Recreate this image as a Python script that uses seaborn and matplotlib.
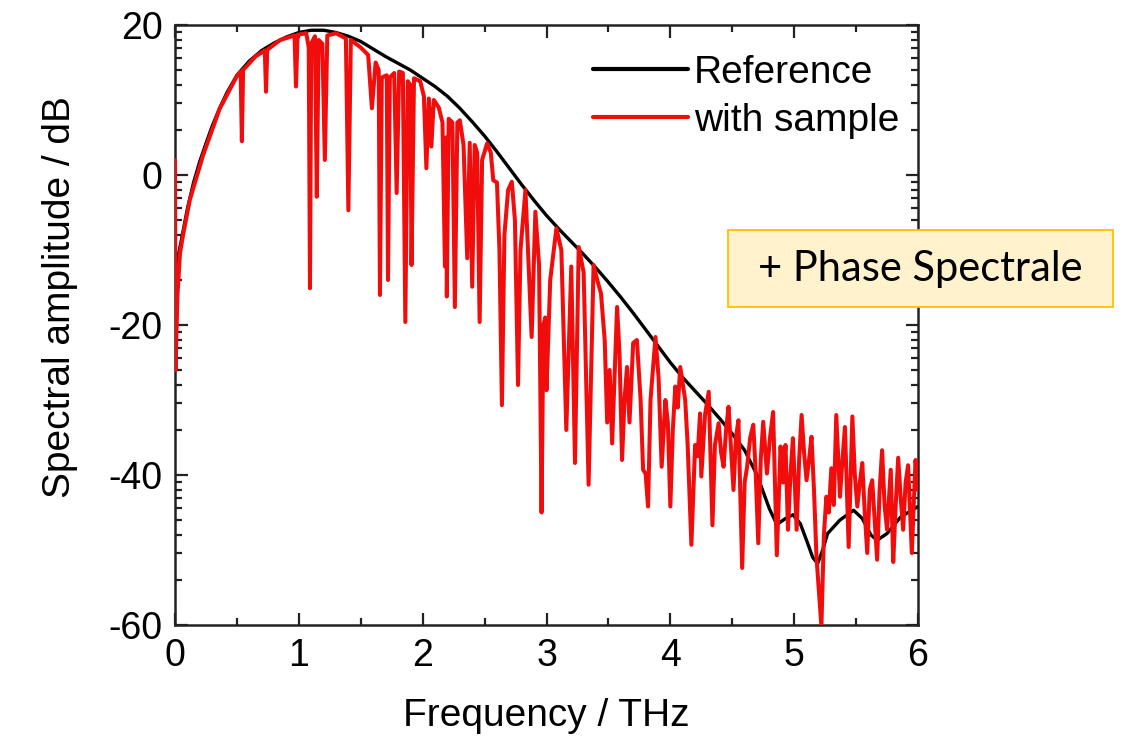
import numpy as np
import pandas as pd
import matplotlib
matplotlib.use("Agg")
import matplotlib.pyplot as plt
from matplotlib.patches import Rectangle
from matplotlib.ticker import FixedLocator
import seaborn as sns

# ---- data ----
ref_freq = [0.0, 0.01, 0.03, 0.065, 0.1, 0.15, 0.2, 0.25, 0.3, 0.36, 0.42, 0.5, 0.6, 0.7,
            0.8, 0.9, 1.0, 1.1, 1.2, 1.3, 1.4, 1.5, 1.6, 1.7, 1.8, 1.9, 2.0, 2.1, 2.2,
            2.3, 2.4, 2.5, 2.6, 2.7, 2.8, 2.9, 3.0, 3.1, 3.2, 3.3, 3.4, 3.5, 3.6, 3.7,
            3.8, 3.9, 4.0, 4.1, 4.2, 4.3, 4.4, 4.5, 4.6, 4.7, 4.8, 4.86, 4.93, 4.99,
            5.05, 5.1, 5.15, 5.19, 5.23, 5.27, 5.37, 5.48, 5.55, 5.62, 5.67, 5.75, 5.86, 6.0]
ref_db = [-15.0, -13.0, -10.5, -7.5, -4.5, -1.0, 1.8, 4.2, 6.5, 8.9, 11.0, 13.3, 15.2, 16.6,
          17.6, 18.4, 19.0, 19.3, 19.3, 19.0, 18.5, 17.8, 16.8, 15.8, 14.9, 14.0, 12.9, 11.8, 10.5,
          8.9, 7.1, 5.2, 3.1, 0.9, -1.3, -3.4, -5.4, -7.2, -8.9, -10.6, -12.4, -14.3, -16.3, -18.4,
          -20.6, -22.8, -25.0, -27.0, -28.8, -30.6, -32.5, -34.5, -36.7, -40.0, -44.5, -46.6, -45.8, -45.3,
          -46.5, -48.7, -51.0, -51.8, -50.0, -47.8, -46.0, -44.7, -45.8, -48.0, -48.7, -47.8, -45.6, -44.2]

sample_freq = [0.0, 0.004, 0.02, 0.04, 0.065, 0.12, 0.226, 0.36, 0.50, 0.53, 0.54, 0.55,
               0.65, 0.725, 0.735, 0.745, 0.85, 0.965, 0.977, 0.99, 1.06, 1.08, 1.09, 1.10,
               1.13, 1.145, 1.16, 1.19, 1.21, 1.23, 1.30, 1.38, 1.40, 1.42, 1.50, 1.56,
               1.59, 1.62, 1.645, 1.655, 1.67, 1.71, 1.72, 1.735, 1.77, 1.79, 1.81, 1.84,
               1.86, 1.88, 1.90, 1.91, 1.93, 1.98, 2.01, 2.03, 2.05, 2.07, 2.09, 2.13,
               2.16, 2.18, 2.19, 2.195, 2.21, 2.24, 2.26, 2.28, 2.30, 2.33, 2.36, 2.38,
               2.40, 2.42, 2.44, 2.46, 2.48, 2.52, 2.55, 2.57, 2.60, 2.62, 2.64, 2.66,
               2.69, 2.72, 2.745, 2.77, 2.79, 2.83, 2.88, 2.91, 2.94, 2.96, 2.975, 2.99,
               3.0, 3.03, 3.08, 3.12, 3.16, 3.20, 3.23, 3.26, 3.30, 3.34, 3.38, 3.41,
               3.44, 3.47, 3.49, 3.51, 3.53, 3.57, 3.59, 3.61, 3.63, 3.65, 3.67, 3.70,
               3.73, 3.76, 3.78, 3.80, 3.82, 3.84, 3.88, 3.905, 3.93, 3.96, 3.98, 4.0,
               4.02, 4.04, 4.06, 4.08, 4.12, 4.14, 4.17, 4.20, 4.22, 4.24, 4.25, 4.28,
               4.31, 4.34, 4.36, 4.39, 4.41, 4.43, 4.45, 4.47, 4.49, 4.51, 4.53, 4.55,
               4.58, 4.60, 4.62, 4.645, 4.67, 4.69, 4.71, 4.73, 4.75, 4.78, 4.805, 4.83,
               4.86, 4.89, 4.91, 4.93, 4.95, 4.97, 4.99, 5.02, 5.04, 5.06, 5.08, 5.10,
               5.12, 5.14, 5.16, 5.18, 5.22, 5.24, 5.26, 5.28, 5.30, 5.32, 5.34, 5.37,
               5.39, 5.41, 5.44, 5.47, 5.49, 5.51, 5.53, 5.55, 5.57, 5.59, 5.61, 5.63,
               5.65, 5.67, 5.69, 5.71, 5.73, 5.75, 5.78, 5.80, 5.82, 5.84, 5.86, 5.88,
               5.90, 5.92, 5.95, 5.98, 6.0]
sample_db = [2.0, -26.0, -16.0, -10.5, -8.0, -3.3, 2.6, 8.8, 13.2, 13.8, 4.5, 14.0,
             15.8, 16.6, 11.1, 16.7, 18.0, 18.6, 11.8, 18.7, 18.9, 17.0, -15.1, 17.5,
             18.5, -2.9, 18.0, 17.5, 2.0, 18.6, 18.9, 18.2, -4.7, 18.0, 17.0, 16.0,
             8.9, 15.0, 14.0, -16.0, 13.0, 13.3, -14.0, 13.0, 13.6, -2.4, 13.8, 13.6,
             -19.6, 12.5, 12.0, -12.0, 12.9, 12.5, 10.5, 0.9, 10.2, 3.8, 10.0, 9.0,
             7.0, -12.2, 5.0, -16.2, 7.5, 7.0, -17.6, 7.0, 7.3, 4.0, -11.1, 4.3,
             -14.9, 4.0, 3.0, -19.6, 2.0, 4.2, 3.0, -0.7, -1.0, -10.0, -30.7, -8.0,
             -2.0, -0.9, -6.0, -28.0, -10.0, -2.0, -21.6, -4.9, -12.0, -45.0, -20.0, -19.0,
             -28.7, -14.0, -7.1, -10.0, -34.0, -12.2, -38.4, -9.6, -13.0, -41.3, -12.0, -14.0,
             -15.8, -22.0, -33.0, -26.0, -35.8, -17.6, -24.0, -38.0, -30.0, -25.6, -33.0, -22.4,
             -22.0, -30.0, -39.3, -39.8, -44.2, -30.0, -21.6, -27.0, -38.9, -30.0, -33.0, -44.2,
             -34.0, -28.2, -31.0, -25.6, -30.0, -36.0, -49.3, -36.0, -37.5, -31.8, -40.2, -32.0,
             -28.9, -46.7, -36.0, -33.1, -37.0, -38.9, -34.0, -30.9, -36.5, -42.0, -35.0, -32.7,
             -52.4, -41.0, -38.9, -35.0, -33.3, -40.0, -49.1, -38.0, -32.9, -39.8, -35.0, -31.6,
             -50.7, -36.2, -41.0, -36.0, -47.3, -40.0, -35.1, -47.3, -38.0, -32.0, -37.0, -40.7,
             -38.0, -34.9, -42.0, -50.9, -60.2, -48.0, -42.9, -45.0, -39.1, -44.0, -32.0, -42.9,
             -38.0, -33.6, -49.6, -32.2, -40.0, -44.2, -41.0, -38.4, -45.0, -50.4, -42.0, -40.7,
             -46.0, -51.3, -42.0, -36.7, -44.0, -47.3, -39.3, -51.6, -44.0, -37.7, -43.0, -47.3,
             -41.0, -38.7, -50.4, -38.0, -42.0]

x_ticks = [0, 1, 2, 3, 4, 5, 6]
y_ticks = [20, 0, -20, -40, -60]
legend_labels = ["Reference", "with sample"]
x_label = "Frequency / THz"
y_label = "Spectral amplitude / dB"
note_text = "+ Phase Spectrale"

# ---- plotting ----
sns.set_style("ticks")
plt.rcParams["font.family"] = ["Liberation Sans", "DejaVu Sans"]
plt.rcParams["axes.unicode_minus"] = False
plt.rcParams["text.color"] = "black"
plt.rcParams["axes.labelcolor"] = "black"

fig = plt.figure(figsize=(11.28, 7.5), dpi=100)
ax = fig.add_axes([175 / 1128, 1 - 625 / 750, (918 - 175) / 1128, 600 / 750])

ref_df = pd.DataFrame({"f": ref_freq, "db": ref_db})
smp_df = pd.DataFrame({"f": sample_freq, "db": sample_db})

sns.lineplot(data=ref_df, x="f", y="db", ax=ax, color="black", lw=2.4,
             sort=False, estimator=None, label=legend_labels[0], zorder=2)
sns.lineplot(data=smp_df, x="f", y="db", ax=ax, color="#f20d0d", lw=2.9,
             sort=False, estimator=None, label=legend_labels[1], zorder=3)

ax.set_xlim(0, 6)
ax.set_ylim(-60, 20)
ax.set_xticks(x_ticks)
ax.set_yticks(y_ticks)
ax.xaxis.set_minor_locator(FixedLocator([0.5, 1.5, 2.5, 3.5, 4.5, 5.5]))
minor_y = []
for base in [-60, -40, -20, 0]:
    for k in range(2, 10):
        minor_y.append(base + 20 * np.log10(k))
ax.yaxis.set_minor_locator(FixedLocator(minor_y))

ax.tick_params(which="both", direction="in", top=True, right=True, width=1.6,
               colors="#222222", labelcolor="black")
ax.tick_params(which="major", length=9, labelsize=27, pad=9)
ax.tick_params(which="minor", length=5)
for sp in ax.spines.values():
    sp.set_linewidth(1.8)
    sp.set_color("#222222")

ax.set_xlabel(x_label, fontsize=28, labelpad=18)
ax.set_ylabel(y_label, fontsize=28)
ax.yaxis.set_label_coords(-0.1305, 0.547)

leg = ax.legend(frameon=False, loc="upper right", bbox_to_anchor=(0.975, 0.95),
                fontsize=28, handlelength=2.45, handletextpad=0.15, labelspacing=0.3,
                borderpad=0.0, borderaxespad=0.0)
for line in leg.get_lines():
    line.set_linewidth(3)

# annotation box
fig.patches.append(Rectangle((728 / 1128, 1 - 307 / 750), 385 / 1128, 77 / 750,
                             transform=fig.transFigure, facecolor="#fff2cc",
                             edgecolor="#ffc000", linewidth=1.3, zorder=5))
fig.text(920 / 1128, 1 - 269 / 750, note_text, ha="center", va="center",
         fontsize=30, family=["Lato", "DejaVu Sans"], zorder=6)

fig.savefig("out.png", dpi=100)
